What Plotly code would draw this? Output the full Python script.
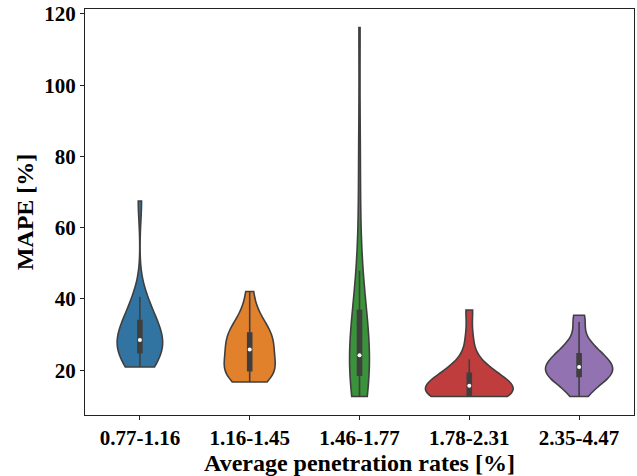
import numpy as np
import plotly.graph_objects as go

categories = ["0.77-1.16", "1.16-1.45", "1.46-1.77", "1.78-2.31", "2.35-4.47"]

mape_077_116 = [20.9, 21.5, 22.5, 23.5, 24.3, 25.1, 26.0, 26.8, 27.4, 28.0, 28.5,
                29.2, 30.0, 31.0, 32.3, 33.6, 35.0, 36.8, 38.5, 40.6, 67.5]
mape_116_145 = [16.7, 17.5, 18.3, 18.9, 19.5, 20.0, 21.0, 22.0, 23.0, 24.2, 25.8,
                26.8, 27.5, 28.3, 29.2, 30.2, 31.2, 32.5, 34.0, 36.5, 42.1]
mape_146_177 = [12.6, 13.5, 14.5, 15.5, 16.5, 17.8, 18.9, 19.8, 20.8, 21.8, 22.7,
                23.5, 24.2, 25.5, 27.0, 28.8, 31.0, 33.5, 36.1, 39.0, 42.5,
                47.9, 66.0, 84.0, 116.2]
mape_178_231 = [12.6, 12.7, 12.8, 12.85, 12.9, 13.0, 13.5, 14.0, 14.5, 15.0, 15.6,
                16.0, 16.6, 17.2, 18.0, 18.9, 19.8, 21.0, 23.1, 29.0, 36.9]
mape_235_447 = [12.6, 15.0, 16.5, 17.3, 17.9, 18.4, 19.0, 19.5, 20.0, 20.5, 20.9,
                21.4, 22.0, 22.6, 23.4, 24.4, 25.2, 26.5, 27.9, 33.5, 35.4]

series = [mape_077_116, mape_116_145, mape_146_177, mape_178_231, mape_235_447]
colors = ["#3274a1", "#e1812c", "#3a923a", "#c03d3e", "#9372b2"]
widths = [0.415, 0.464, 0.18, 0.8, 0.612]
gray = "#3f3f3f"

fig = go.Figure()
for cat, vals, col, w in zip(categories, series, colors, widths):
    arr = np.asarray(vals, dtype=float)
    bw = arr.std(ddof=1) * len(arr) ** (-0.2)  # Scott's rule, like seaborn
    box_px = 4.0
    fig.add_trace(go.Violin(
        x=[cat] * len(vals), y=vals, name=cat,
        fillcolor=col, opacity=1,
        line=dict(color=gray, width=1.6),
        spanmode="hard", bandwidth=bw, width=w, scalemode="width",
        points=False,
        box=dict(visible=True, width=box_px / (w * 110.0), fillcolor=gray,
                 line=dict(color=gray, width=1.6)),
        meanline=dict(visible=False),
        showlegend=False, hoverinfo="skip",
    ))

medians = [float(np.median(v)) for v in series]
fig.add_trace(go.Scatter(
    x=categories, y=medians, mode="markers",
    marker=dict(color="white", size=4, line=dict(width=0)),
    showlegend=False, hoverinfo="skip",
))

allv = np.concatenate([np.asarray(v, float) for v in series])
lo, hi = allv.min(), allv.max()
pad = 0.05 * (hi - lo)

font_family = "Liberation Serif, Times New Roman, serif"
fig.update_layout(
    width=637, height=476,
    margin=dict(l=85, r=2, t=6, b=61),
    paper_bgcolor="white", plot_bgcolor="white",
    violinmode="overlay",
    font=dict(family=font_family, color="black"),
    xaxis=dict(
        type="category", categoryorder="array", categoryarray=categories,
        range=[-0.5, 4.5],
        showline=True, linecolor="#222222", linewidth=1.2, mirror=True,
        ticks="outside", ticklen=4, tickwidth=1, tickcolor="#222222",
        tickfont=dict(size=21, family=font_family, weight="bold", color="black"),
        title=dict(text="Average penetration rates [%]", standoff=1,
                   font=dict(size=24, family=font_family, weight="bold", color="black")),
        showgrid=False, zeroline=False,
    ),
    yaxis=dict(
        range=[lo - pad, hi + pad], ticklabeloverflow="allow",
        tickvals=[20, 40, 60, 80, 100, 120],
        showline=True, linecolor="#222222", linewidth=1.2, mirror=True,
        ticks="outside", ticklen=4, tickwidth=1, tickcolor="#222222",
        tickfont=dict(size=21, family=font_family, weight="bold", color="black"),
        title=dict(text="MAPE [%]", standoff=3,
                   font=dict(size=24, family=font_family, weight="bold", color="black")),
        showgrid=False, zeroline=False,
    ),
)

fig.write_html("out.html", config={"displayModeBar": False},
               post_script="document.body.style.margin='0px';")
